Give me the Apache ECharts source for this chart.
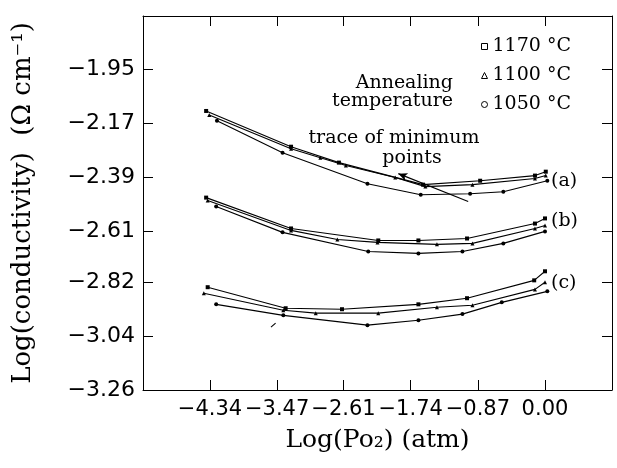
<!DOCTYPE html>
<html>
<head>
<meta charset="utf-8">
<script src="https://cdn.jsdelivr.net/npm/echarts@6/dist/echarts.min.js"></script>
<style>
    html, body { margin: 0; background: #fff; }
    #chart { width: 617px; height: 468px; }
</style>
</head>
<body>
<div id="chart"></div>
<script>
// temperatures (legend)
var tempNames = ['1170 °C', '1100 °C', '1050 °C'];
var tempSymbols = ['rect', 'triangle', 'circle'];

// tick positions on the axes
var xTicks = [-4.34, -3.47, -2.61, -1.74, -0.87, 0];
var yTicks = [-3.26, -3.04, -2.82, -2.61, -2.39, -2.17, -1.95];

// group (a)
var a1170 = [[-4.39, -2.120], [-3.29, -2.266], [-2.67, -2.331], [-1.58, -2.421], [-0.84, -2.405], [-0.13, -2.384], [0.01, -2.368]];
var a1100 = [[-4.35, -2.136], [-3.29, -2.274], [-2.91, -2.311], [-2.58, -2.343], [-1.94, -2.392], [-1.55, -2.429], [-0.94, -2.421], [-0.13, -2.396], [0.01, -2.384]];
var a1050 = [[-4.25, -2.160], [-3.40, -2.291], [-2.30, -2.417], [-1.61, -2.462], [-0.97, -2.458], [-0.54, -2.450], [0.03, -2.405]];

// group (b)
var b1170 = [[-4.39, -2.474], [-3.29, -2.600], [-2.16, -2.649], [-1.64, -2.649], [-1.01, -2.641], [-0.13, -2.580], [0.00, -2.559]];
var b1100 = [[-4.37, -2.486], [-3.29, -2.608], [-2.69, -2.645], [-2.17, -2.657], [-1.40, -2.665], [-0.94, -2.661], [-0.13, -2.600], [0.00, -2.588]];
var b1050 = [[-4.26, -2.510], [-3.40, -2.616], [-2.29, -2.694], [-1.64, -2.702], [-1.07, -2.694], [-0.54, -2.661], [0.00, -2.612]];

// group (c)
var c1170 = [[-4.37, -2.840], [-3.36, -2.926], [-2.63, -2.930], [-1.64, -2.910], [-1.01, -2.885], [-0.14, -2.812], [0.00, -2.775]];
var c1100 = [[-4.42, -2.865], [-3.39, -2.934], [-2.97, -2.946], [-2.16, -2.946], [-1.40, -2.922], [-0.94, -2.914], [-0.13, -2.849], [0.00, -2.820]];
var c1050 = [[-4.26, -2.910], [-3.39, -2.955], [-2.30, -2.995], [-1.64, -2.975], [-1.07, -2.950], [-0.56, -2.902], [0.03, -2.857]];

// trace of minimum points (arrow) and the small stray mark below (c)
var traceArrow = [[-1.90, -2.376], [-0.995, -2.490]];
var traceDash = [[-3.55, -3.003], [-3.49, -2.987]];

var chart = echarts.init(document.getElementById('chart'));

function fmt(v) {
    return (v < 0 ? '\u2212' : '') + Math.abs(v).toFixed(2);
}

function curve(i, data) {
    return {
        name: tempNames[i],
        type: 'line',
        data: data,
        symbol: tempSymbols[i],
        symbolSize: 4,
        itemStyle: { color: '#000' },
        lineStyle: { color: '#000', width: 1.1 },
        animation: false
    };
}

var tickStyle = { color: '#000', width: 1 };

var option = {
    backgroundColor: '#fff',
    animation: false,
    grid: { left: 143, right: 5, top: 16, bottom: 78 },
    legend: {
        data: tempNames.map(function (n, i) {
            return { name: n, icon: tempSymbols[i], itemStyle: { color: '#fff', borderColor: '#000', borderWidth: 1 } };
        }),
        orient: 'vertical',
        left: 476,
        top: 32,
        itemWidth: 6,
        itemHeight: 6,
        itemGap: 10,
        selectedMode: false,
        textStyle: { fontFamily: 'DejaVu Serif', fontSize: 19, color: '#000' }
    },
    xAxis: [
        {
            type: 'value', position: 'bottom', min: -5.208, max: 0.868,
            axisLine: { onZero: false, lineStyle: tickStyle },
            axisTick: { inside: true, length: 10, customValues: xTicks, lineStyle: tickStyle },
            axisLabel: { customValues: xTicks, formatter: fmt, color: '#000', fontFamily: 'DejaVu Sans', fontSize: 21, margin: 9 },
            splitLine: { show: false },
            name: 'Log(Po₂) (atm)', nameLocation: 'middle', nameGap: 38,
            nameTextStyle: { fontFamily: 'DejaVu Serif', fontSize: 25, color: '#000' }
        },
        {
            type: 'value', position: 'top', min: -5.208, max: 0.868,
            axisLine: { onZero: false, lineStyle: tickStyle },
            axisTick: { inside: true, length: 10, customValues: xTicks, lineStyle: tickStyle },
            axisLabel: { show: false },
            splitLine: { show: false }
        }
    ],
    yAxis: [
        {
            type: 'value', position: 'left', min: -3.26, max: -1.732,
            axisLine: { show: true, onZero: false, lineStyle: tickStyle },
            axisTick: { show: true, inside: true, length: 10, customValues: yTicks, lineStyle: tickStyle },
            axisLabel: { customValues: yTicks, formatter: fmt, color: '#000', fontFamily: 'DejaVu Sans', fontSize: 22, margin: 8 },
            splitLine: { show: false },
            name: 'Log(conductivity)  (Ω cm⁻¹)', nameLocation: 'middle', nameGap: 107,
            nameTextStyle: { fontFamily: 'DejaVu Serif', fontSize: 26, color: '#000' }
        },
        {
            type: 'value', position: 'right', min: -3.26, max: -1.732,
            axisLine: { show: true, onZero: false, lineStyle: tickStyle },
            axisTick: { show: true, inside: true, length: 10, customValues: yTicks.slice(1), lineStyle: tickStyle },
            axisLabel: { show: false },
            splitLine: { show: false }
        }
    ],
    graphic: [
        { type: 'text', x: 453, y: 83, style: { text: 'Annealing', textAlign: 'right', textVerticalAlign: 'middle', font: '19px "DejaVu Serif"', fill: '#000' } },
        { type: 'text', x: 453, y: 101, style: { text: 'temperature', textAlign: 'right', textVerticalAlign: 'middle', font: '19px "DejaVu Serif"', fill: '#000' } },
        { type: 'text', x: 394, y: 138, style: { text: 'trace of minimum', textAlign: 'center', textVerticalAlign: 'middle', font: '19px "DejaVu Serif"', fill: '#000' } },
        { type: 'text', x: 412, y: 158, style: { text: 'points', textAlign: 'center', textVerticalAlign: 'middle', font: '19px "DejaVu Serif"', fill: '#000' } },
        { type: 'text', x: 551, y: 181, style: { text: '(a)', textVerticalAlign: 'middle', font: '19px "DejaVu Serif"', fill: '#000' } },
        { type: 'text', x: 551, y: 221, style: { text: '(b)', textVerticalAlign: 'middle', font: '19px "DejaVu Serif"', fill: '#000' } },
        { type: 'text', x: 551, y: 283, style: { text: '(c)', textVerticalAlign: 'middle', font: '19px "DejaVu Serif"', fill: '#000' } }
    ],
    series: [
        curve(0, a1170), curve(1, a1100), curve(2, a1050),
        curve(0, b1170), curve(1, b1100), curve(2, b1050),
        curve(0, c1170), curve(1, c1100), curve(2, c1050),
        {
            name: 'trace',
            type: 'line',
            data: [],
            markLine: {
                silent: true,
                symbol: ['arrow', 'none'],
                symbolSize: [6, 9],
                label: { show: false },
                lineStyle: { color: '#000', width: 1.1, type: 'solid' },
                data: [
                    [{ coord: traceArrow[0] }, { coord: traceArrow[1] }],
                    [{ coord: traceDash[0], symbol: 'none' }, { coord: traceDash[1], symbol: 'none' }]
                ]
            }
        }
    ]
};

chart.setOption(option);
</script>
</body>
</html>
